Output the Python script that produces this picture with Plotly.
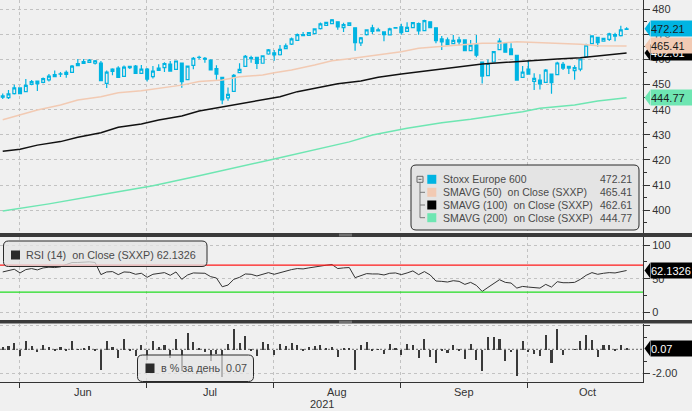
import plotly.graph_objects as go

# ---------------- data ----------------
days = list(range(109))
opens = [445.5, 444.8, 446.4, 448.7, 447.2, 450.1, 451.4, 450.9, 451.9, 454.0,
         454.2, 454.9, 454.9, 458.4, 459.2, 458.8, 458.5, 458.6, 450.5, 455.3,
         456.6, 453.3, 457.3, 457.4, 454.5, 456.2, 453.2, 455.7, 456.8, 458.2,
         456.1, 458.6, 452.0, 457.7, 460.8, 460.5, 459.8, 456.4, 452.9, 444.7,
         447.3, 454.8, 457.3, 460.3, 460.9, 458.5, 462.2, 462.7, 461.9, 464.3,
         466.1, 467.6, 469.9, 469.6, 470.3, 472.3, 473.6, 474.3, 475.0, 472.7,
         473.6, 472.6, 466.6, 469.9, 472.6, 471.8, 471.0, 469.8, 472.5, 473.0,
         471.2, 472.7, 474.3, 471.5, 475.0, 472.6, 468.2, 467.8, 466.3, 467.8,
         467.8, 463.5, 465.8, 459.0, 453.6, 459.0, 463.9, 466.3, 464.2, 461.7,
         452.9, 456.2, 451.3, 451.8, 450.9, 454.2, 454.0, 458.1, 457.3, 455.6,
         456.2, 461.1, 466.3, 468.8, 467.3, 468.0, 469.3, 469.5, 472.0]
highs = [446.5, 447.9, 449.9, 448.9, 452.2, 451.8, 451.4, 452.8, 454.2, 455.6,
         455.0, 455.6, 457.8, 460.2, 460.2, 460.2, 459.8, 459.4, 455.6, 456.5,
         457.3, 457.6, 457.3, 457.8, 457.8, 456.6, 457.4, 458.1, 458.9, 459.4,
         459.4, 458.6, 457.4, 461.0, 461.5, 461.0, 460.1, 457.7, 452.9, 448.9,
         454.2, 458.5, 461.8, 461.5, 460.9, 461.5, 464.2, 463.8, 465.8, 466.4,
         468.8, 470.4, 471.0, 471.0, 472.4, 474.7, 474.9, 476.1, 475.0, 474.6,
         474.6, 472.6, 469.0, 472.0, 473.8, 472.6, 471.0, 472.6, 472.8, 474.2,
         474.8, 474.9, 474.7, 475.8, 475.0, 472.6, 469.4, 468.8, 469.8, 469.1,
         468.1, 467.8, 469.8, 459.0, 460.0, 463.1, 468.5, 466.6, 466.5, 461.7,
         457.4, 459.6, 454.5, 454.1, 456.2, 454.2, 459.1, 459.0, 457.3, 457.7,
         460.2, 466.3, 469.6, 468.8, 468.4, 470.7, 470.7, 473.4, 472.8]
lows = [444.3, 444.3, 446.1, 446.3, 447.1, 449.7, 447.5, 450.5, 451.2, 453.2,
        453.0, 452.7, 454.6, 457.6, 458.4, 458.7, 458.0, 451.5, 448.7, 453.7,
        452.8, 453.0, 456.2, 454.4, 454.2, 451.2, 452.4, 455.4, 455.0, 455.2,
        456.1, 448.8, 452.0, 456.1, 460.1, 458.7, 455.8, 451.9, 442.2, 443.6,
        447.1, 454.5, 457.0, 458.7, 456.2, 458.5, 461.9, 459.5, 461.6, 464.1,
        465.8, 467.4, 469.4, 469.5, 470.2, 472.0, 473.5, 474.2, 471.9, 471.0,
        473.5, 463.5, 465.4, 469.6, 470.2, 471.4, 467.3, 469.7, 472.2, 469.9,
        471.0, 472.6, 469.9, 471.5, 472.7, 466.5, 463.8, 465.9, 466.1, 465.7,
        463.4, 463.4, 460.9, 450.4, 453.4, 458.9, 463.7, 462.8, 461.8, 451.6,
        452.6, 454.0, 447.9, 448.1, 450.6, 446.4, 453.7, 455.8, 454.2, 451.9,
        455.3, 460.9, 466.1, 465.1, 467.3, 467.4, 467.3, 469.2, 471.8]
closes = [445.0, 446.3, 448.7, 446.4, 449.7, 451.2, 450.4, 452.4, 453.4, 453.2,
          454.3, 454.1, 457.4, 457.6, 458.4, 459.8, 459.5, 451.6, 455.0, 456.2,
          452.9, 457.0, 456.8, 454.5, 456.2, 452.2, 455.4, 456.6, 458.4, 455.4,
          459.4, 451.2, 457.4, 460.5, 460.9, 460.1, 455.9, 454.2, 443.9, 446.1,
          453.7, 456.1, 461.3, 460.8, 458.4, 461.5, 463.8, 461.8, 464.0, 465.4,
          468.2, 469.9, 469.5, 470.7, 472.2, 474.2, 474.8, 475.8, 473.0, 473.9,
          474.6, 466.7, 468.6, 471.8, 471.2, 471.4, 469.9, 472.2, 472.7, 470.7,
          472.8, 474.7, 471.4, 475.5, 472.7, 467.5, 467.0, 465.9, 467.6, 467.0,
          463.5, 465.7, 461.7, 453.4, 458.4, 463.1, 467.3, 462.9, 461.9, 451.8,
          455.0, 454.2, 452.5, 450.3, 455.8, 450.8, 458.6, 456.6, 456.6, 456.8,
          460.2, 465.7, 469.4, 466.7, 468.4, 470.2, 469.9, 471.8, 472.21]

sma50_day = [0, 3, 6, 10, 13, 17, 20, 24, 27, 31, 34, 38, 41, 45, 47, 50, 54, 57, 60, 62,
             65, 69, 72, 76, 79, 83, 86, 89, 93, 96, 100, 103, 108]
sma50_val = [436.0, 437.9, 439.9, 441.9, 443.9, 445.2, 446.8, 447.6, 448.5, 449.8, 451.2,
             451.8, 453.1, 453.8, 454.7, 455.8, 457.8, 459.5, 460.3, 460.9, 461.8, 463.1,
             464.5, 465.1, 465.8, 466.5, 466.5, 467.1, 466.7, 466.5, 466.1, 465.5, 465.41]
sma100_day = [0, 3, 6, 10, 13, 17, 20, 24, 27, 31, 34, 38, 41, 45, 48, 51, 55, 58, 62, 65,
              69, 72, 76, 79, 83, 86, 90, 93, 96, 100, 103, 108]
sma100_val = [423.5, 424.3, 425.9, 427.3, 429.0, 430.8, 433.0, 434.3, 435.9, 437.5, 439.5,
              441.2, 442.5, 443.9, 445.2, 447.2, 448.9, 450.3, 451.4, 452.9, 454.2, 455.1,
              456.2, 457.1, 458.2, 458.7, 459.4, 459.8, 460.2, 460.7, 461.4, 462.61]
sma200_day = [0, 8, 17, 26, 34, 43, 47, 60, 64, 70, 76, 81, 84, 90, 93, 99, 103, 108]
sma200_val = [399.7, 402.5, 406.1, 409.7, 413.7, 418.5, 420.4, 427.2, 429.9, 432.6, 434.8,
              436.2, 437.2, 439.2, 440.6, 441.9, 443.5, 444.77]

rsi = [60, 62.5, 64, 58.5, 63.5, 65, 63, 66, 67, 66.5,
       67.5, 71, 74, 74, 74.5, 75, 74, 56, 60, 60.5,
       56, 60, 59.5, 56.5, 58, 52, 56.5, 57.5, 59, 55,
       60, 49, 55.5, 58.5, 58.5, 58, 53, 51, 38, 40.5,
       49, 52, 57, 56.5, 54, 57, 59, 56.5, 59, 60.5,
       63.5, 65, 64.5, 66, 67.5, 69.5, 70, 71, 65, 66,
       66.5, 51.5, 54, 57.5, 57, 57, 55.5, 58, 58.5, 56,
       58.5, 61.5, 56, 60.5, 55.5, 46.5, 46, 45, 47, 46,
       41.5, 44.5, 40, 31, 37, 43, 48.5, 44.5, 43.5, 36,
       38.5, 37.5, 37, 36, 41.5, 37.5, 45.5, 44, 44, 44.5,
       49, 55, 59, 56.5, 58, 59, 58.5, 60.5, 62.13]
RSI_UPPER, RSI_LOWER = 70, 30

pct = [0.20, 0.29, 0.54, -0.51, 0.74, 0.33, -0.18, 0.44, 0.22, -0.04,
       0.22, -0.02, 0.73, 0.04, 0.17, 0.31, -0.07, -1.72, 0.75, 0.26,
       -0.72, 0.91, -0.04, -0.50, 0.37, -0.88, 0.71, 0.26, 0.39, -0.65,
       0.88, -1.78, 1.37, 0.68, 0.07, -0.15, -0.91, -0.37, -2.27, 0.50,
       1.70, 0.53, 1.14, -0.11, -0.52, 0.68, 0.50, -0.43, 0.48, 0.30,
       0.60, 0.36, -0.09, 0.26, 0.32, 0.42, 0.13, 0.21, -0.59, 0.19,
       0.15, -1.66, 0.41, 0.68, -0.13, 0.04, -0.32, 0.49, 0.11, -0.42,
       0.45, 0.40, -0.70, 0.87, -0.59, -1.10, -0.11, -0.24, 0.36, -0.13,
       -0.75, 0.47, -0.86, -1.80, 1.10, 1.03, 0.91, -0.94, -0.22, -2.19,
       0.71, -0.18, -0.37, -0.49, 1.22, -1.10, 1.73, -0.44, 0.00, 0.04,
       0.74, 1.20, 0.79, -0.58, 0.36, 0.38, -0.06, 0.40, 0.07]

month_bounds = [2.9, 24.9, 46.9, 68.9, 90.9]
month_names = ["Jun", "Jul", "Aug", "Sep", "Oct"]
month_mid = [13.9, 35.9, 57.9, 79.9, 101.2]
year_label = "2021"

price_ticks = [400, 410, 420, 430, 440, 450, 460, 470, 480]
price_minor = [395, 405, 415, 425, 435, 445, 455, 465, 475, 485]
rsi_ticks = [0, 50, 100]
rsi_minor = [25, 75]
pct_ticks = [-2, 2]
pct_ticktext = ["-2.00", ""]
pct_minor = [-1, 1]

# ---------------- style ----------------
W, H = 692, 411
MR, MB = 49, 29
PW, PH = W - MR, H - MB
BG = "#f0f0f0"
CYAN = "#00b4e2"
PEACH = "#f2cab3"
GREEN = "#6ee6b2"
GRID = "#c2c2c2"
FONT = "Liberation Sans"
TXT = "#4a4a4a"


def px(x):
    return x / PW


def py(y):
    return (PH - y) / PH


def rrect(x0, y0, x1, y1, r):
    X0, X1 = px(x0), px(x1)
    Y0, Y1 = py(y0), py(y1)
    rx, ry = r / PW, r / PH
    return (f"M {X0+rx},{Y0} L {X1-rx},{Y0} Q {X1},{Y0} {X1},{Y0-ry} "
            f"L {X1},{Y1+ry} Q {X1},{Y1} {X1-rx},{Y1} L {X0+rx},{Y1} "
            f"Q {X0},{Y1} {X0},{Y1+ry} L {X0},{Y0-ry} Q {X0},{Y0} {X0+rx},{Y0} Z")


fig = go.Figure()

fig.add_trace(go.Candlestick(
    x=days, open=opens, high=highs, low=lows, close=closes,
    increasing=dict(line=dict(color=CYAN, width=1.2), fillcolor=BG),
    decreasing=dict(line=dict(color=CYAN, width=1.2), fillcolor=CYAN),
    whiskerwidth=0, xaxis="x", yaxis="y", showlegend=False, hoverinfo="skip"))
fig.add_trace(go.Scatter(x=sma200_day, y=sma200_val, mode="lines",
                         line=dict(color=GREEN, width=1.5), xaxis="x", yaxis="y",
                         showlegend=False, hoverinfo="skip"))
fig.add_trace(go.Scatter(x=sma50_day, y=sma50_val, mode="lines",
                         line=dict(color=PEACH, width=1.5), xaxis="x", yaxis="y",
                         showlegend=False, hoverinfo="skip"))
fig.add_trace(go.Scatter(x=sma100_day, y=sma100_val, mode="lines",
                         line=dict(color="#111111", width=1.5), xaxis="x", yaxis="y",
                         showlegend=False, hoverinfo="skip"))
fig.add_trace(go.Scatter(x=days, y=rsi, mode="lines",
                         line=dict(color="#333333", width=1), xaxis="x2", yaxis="y2",
                         showlegend=False, hoverinfo="skip"))
fig.add_trace(go.Bar(x=days, y=pct, width=0.36, marker=dict(color="#3a3a3a", line=dict(width=0)),
                     xaxis="x3", yaxis="y3", showlegend=False, hoverinfo="skip"))

xcommon = dict(range=[-0.47, 110.84], showgrid=False, zeroline=False)
xminor = dict(tickmode="array", tickvals=month_bounds, showgrid=True,
              gridcolor=GRID, griddash="3px,3px", gridwidth=1)
ycommon = dict(side="right", showline=True, linecolor="#333333", linewidth=1,
               ticks="outside", ticklen=6, tickcolor="#333333", gridcolor=GRID,
               griddash="3px,3px", zeroline=False,
               tickfont=dict(family=FONT, size=11, color="#333333"))

fig.update_layout(
    width=W, height=H, margin=dict(l=0, r=MR, t=0, b=MB),
    paper_bgcolor=BG, plot_bgcolor=BG, bargap=0,
    font=dict(family=FONT, size=11, color="#333333"),
    xaxis=dict(**xcommon, anchor="y", showticklabels=False, minor=xminor,
               rangeslider=dict(visible=False)),
    xaxis2=dict(**xcommon, anchor="y2", matches="x", showticklabels=False, minor=xminor),
    xaxis3=dict(**xcommon, anchor="y3", matches="x", showticklabels=False,
                showline=True, linecolor="#333333",
                minor=dict(**xminor, ticks="outside", ticklen=5, tickcolor="#333333")),
    yaxis=dict(**ycommon, domain=[py(233), 1], range=[390.9, 483.7], anchor="x",
               tickmode="array", tickvals=price_ticks,
               minor=dict(tickmode="array", tickvals=price_minor, ticks="outside",
                          ticklen=3, tickcolor="#333333")),
    yaxis2=dict(**ycommon, domain=[py(320), py(237)], range=[-11.4, 111.9], anchor="x2",
                tickmode="array", tickvals=rsi_ticks,
                minor=dict(tickmode="array", tickvals=rsi_minor, ticks="outside",
                           ticklen=3, tickcolor="#333333")),
    yaxis3=dict(**ycommon, domain=[0, py(323.5)], range=[-2.725, 2.15], anchor="x3",
                tickmode="array", tickvals=pct_ticks, ticktext=pct_ticktext,
                minor=dict(tickmode="array", tickvals=pct_minor, ticks="outside",
                           ticklen=3, tickcolor="#333333")),
)

shapes = []
ann = []

# RSI levels, zero line
shapes.append(dict(type="line", xref="paper", yref="y2", x0=0, x1=1, y0=RSI_UPPER, y1=RSI_UPPER,
                   line=dict(color="#ff1a1a", width=1.2)))
shapes.append(dict(type="line", xref="paper", yref="y2", x0=0, x1=1, y0=RSI_LOWER, y1=RSI_LOWER,
                   line=dict(color="#22dd22", width=1.2)))
shapes.append(dict(type="line", xref="paper", yref="y3", x0=0, x1=1, y0=0, y1=0,
                   line=dict(color="#666666", width=1, dash="2px,2px"), layer="below"))

# separators
for (a, b) in [(233, 237), (320, 323.5)]:
    shapes.append(dict(type="rect", xref="paper", yref="paper", x0=px(0), x1=px(W),
                       y0=py(b), y1=py(a), fillcolor="#3a3a3a", line=dict(width=0)))
    for yy in [a + 1.2, a + 2.8]:
        shapes.append(dict(type="line", xref="paper", yref="paper", x0=px(339), x1=px(352),
                           y0=py(yy), y1=py(yy), line=dict(color="#9a9a9a", width=0.8)))

# top legend
shapes.append(dict(type="path", xref="paper", yref="paper", path=rrect(411, 165, 639, 230, 5),
                   fillcolor="#e4e4e4", line=dict(color="#2a2a2a", width=1)))
rows_y = [179.3, 192.3, 205, 217.7]
leg_cols = [CYAN, PEACH, "#000000", GREEN]
leg_names = ["Stoxx Europe 600", "SMAVG (50)\u00a0\u00a0on Close (SXXP)",
             "SMAVG (100)\u00a0\u00a0on Close (SXXP)", "SMAVG (200)\u00a0\u00a0on Close (SXXP)"]
leg_vals = ["472.21", "465.41", "462.61", "444.77"]
shapes.append(dict(type="rect", xref="paper", yref="paper", x0=px(417), x1=px(423),
                   y0=py(182.3), y1=py(176.3), line=dict(color="#666666", width=1)))
shapes.append(dict(type="line", xref="paper", yref="paper", x0=px(418.5), x1=px(421.5),
                   y0=py(179.3), y1=py(179.3), line=dict(color="#666666", width=1)))
shapes.append(dict(type="line", xref="paper", yref="paper", x0=px(420), x1=px(420),
                   y0=py(182.3), y1=py(rows_y[3]), line=dict(color="#777777", width=1)))
for i, ry in enumerate(rows_y):
    if i > 0:
        shapes.append(dict(type="line", xref="paper", yref="paper", x0=px(420), x1=px(425),
                           y0=py(ry), y1=py(ry), line=dict(color="#777777", width=1)))
    shapes.append(dict(type="rect", xref="paper", yref="paper", x0=px(427.3), x1=px(436.3),
                       y0=py(ry + 4.5), y1=py(ry - 4.5), fillcolor=leg_cols[i], line=dict(width=0)))
    ann.append(dict(xref="paper", yref="paper", x=px(440.5), y=py(ry), text=leg_names[i],
                    xanchor="left", yanchor="middle", showarrow=False,
                    font=dict(family=FONT, size=10.5, color=TXT)))
    ann.append(dict(xref="paper", yref="paper", x=px(634), y=py(ry), text=leg_vals[i],
                    xanchor="right", yanchor="middle", showarrow=False,
                    font=dict(family=FONT, size=10.5, color=TXT)))

# RSI legend
shapes.append(dict(type="path", xref="paper", yref="paper", path=rrect(3.5, 241, 207, 266.5, 5),
                   fillcolor="rgba(228,228,228,0.75)", line=dict(color="#2a2a2a", width=1)))
shapes.append(dict(type="rect", xref="paper", yref="paper", x0=px(11), x1=px(20),
                   y0=py(259.5), y1=py(250.5), fillcolor="#2b2b2b", line=dict(width=0)))
ann.append(dict(xref="paper", yref="paper", x=px(24), y=py(255), showarrow=False,
                text="RSI (14)\u00a0\u00a0on Close (SXXP) 62.1326", xanchor="left", yanchor="middle",
                font=dict(family=FONT, size=10.8, color=TXT)))

# bottom legend
shapes.append(dict(type="path", xref="paper", yref="paper", path=rrect(137.5, 355, 253.5, 381.5, 5),
                   fillcolor="rgba(228,228,228,0.72)", line=dict(color="#2a2a2a", width=1)))
shapes.append(dict(type="rect", xref="paper", yref="paper", x0=px(145.5), x1=px(154.5),
                   y0=py(373), y1=py(363.5), fillcolor="#2b2b2b", line=dict(width=0)))
ann.append(dict(xref="paper", yref="paper", x=px(158.5), y=py(368.3), showarrow=False,
                text="в % за день", xanchor="left", yanchor="middle",
                font=dict(family=FONT, size=10.8, color=TXT)))
ann.append(dict(xref="paper", yref="paper", x=px(224), y=py(368.3), showarrow=False,
                text="0.07", xanchor="left", yanchor="middle",
                font=dict(family=FONT, size=10.8, color=TXT)))

# value tags on right axis
tags = [("y", 472.21, "472.21", CYAN, "#1a1a1a"),
        ("y", 462.61, "462.61", "#000000", "#ffffff"),
        ("y", 465.41, "465.41", PEACH, "#1a1a1a"),
        ("y", 444.77, "444.77", GREEN, "#1a1a1a"),
        ("y2", 62.13, "62.1326", "#000000", "#ffffff"),
        ("y3", 0.07, "0.07", "#000000", "#ffffff")]
for yref, val, txt, bgc, fgc in tags:
    shapes.append(dict(type="path", xref="paper", yref=yref, xsizemode="pixel", ysizemode="pixel",
                       xanchor=1, yanchor=val, path="M 1.5,0 L 7,7.5 L 7,-7.5 Z",
                       fillcolor=bgc, line=dict(width=0)))
    ann.append(dict(xref="paper", yref=yref, x=1, y=val, xshift=6.5, text=txt, showarrow=False,
                    xanchor="left", yanchor="middle", align="left", width=46, height=15,
                    borderpad=0, bgcolor=bgc, font=dict(family=FONT, size=11, color=fgc)))

# month labels & year
for m, pos in zip(month_names, month_mid):
    ann.append(dict(xref="x3", yref="paper", x=pos, y=py(391.5), text=m, showarrow=False,
                    xanchor="center", yanchor="middle", font=dict(family=FONT, size=11, color="#333333")))
ann.append(dict(xref="paper", yref="paper", x=px(321.6), y=py(403.5), text=year_label, showarrow=False,
                xanchor="center", yanchor="middle", font=dict(family=FONT, size=11, color="#333333")))

fig.update_layout(shapes=shapes, annotations=ann)
fig.write_html("out.html")
